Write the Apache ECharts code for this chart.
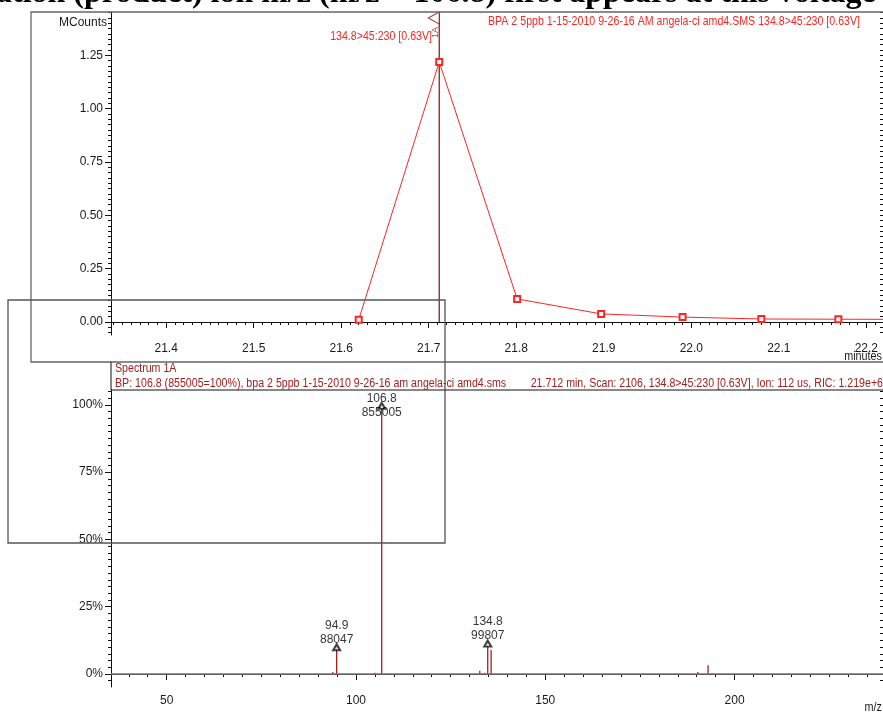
<!DOCTYPE html>
<html>
<head>
<meta charset="utf-8">
<script src="https://cdn.jsdelivr.net/npm/echarts@6/dist/echarts.min.js"></script>
<style>
  html, body { margin: 0; padding: 0; background: #fff; }
  #chart { width: 883px; height: 713px; }
</style>
</head>
<body>
<div id="chart"></div>
<script>
// ---- Chromatogram: 134.8>45:230 [0.63V] (MCounts vs minutes) ----
const rtMinutes = [21.620, 21.712, 21.801, 21.897, 21.990, 22.080, 22.168, 22.258];
const mCounts   = [0.010, 1.219, 0.108, 0.038, 0.023, 0.014, 0.013, 0.012];
const scanTime  = 21.712;
const rtTicks      = [21.4, 21.5, 21.6, 21.7, 21.8, 21.9, 22.0, 22.1, 22.2];
const mCountTicks  = [0.00, 0.25, 0.50, 0.75, 1.00, 1.25];

// ---- Spectrum 1A at 21.712 min (ion counts vs m/z) ----
const basePeakMz = 106.8;
const basePeak   = 855005;
const mzValues   = [53.0, 93.9, 94.9, 105.0, 106.8, 108.7, 132.7, 134.0, 134.8, 135.7, 190.3, 193.0, 194.0, 197.2];
const ionCounts  = [1500, 6000, 88047, 4000, 855005, 2500, 10500, 4000, 99807, 76000, 6000, 28000, 2500, 1500];
const labelledMz = [94.9, 106.8, 134.8];
const mzTicks    = [50, 100, 150, 200];
const pctTicks   = [0, 25, 50, 75, 100];

const rtRange  = [21.337, 22.219];
const mcRange  = [-0.061, 1.453];
const mzRange  = [35.3, 239.2];
const pctRange = [-4.83, 105.5];

const sans = "'Liberation Sans', Arial, sans-serif";
const DARK_RED = '#a3201f';
const RED = '#ff2424';
const SQUEEZE = 0.885;   // condensed header lettering

function steps(from, to, step) {
  const out = [];
  const n = Math.round((to - from) / step);
  for (let i = 0; i <= n; i++) out.push(+(from + i * step).toFixed(6));
  return out;
}
const rtMinor  = steps(21.34, 22.21, 0.01);
const mcMinor  = steps(-0.05, 1.45, 0.025);
const mzMinor  = steps(40, 235, 5);
const pctMinor = steps(-2.5, 105, 2.5).map(p => p / 100 * basePeak);
const pctMajor = pctTicks.map(p => p / 100 * basePeak);

const axisText = { color: '#1a1a1a', fontFamily: sans, fontSize: 12 };
const black = { color: '#111', width: 1 };

function majorAxis(extra) {
  return Object.assign({
    type: 'value', scale: true,
    axisLine: { show: true, lineStyle: black },
    splitLine: { show: false },
    axisPointer: { show: false }
  }, extra);
}
function minorAxis(extra, values, inside) {
  return Object.assign({
    type: 'value', scale: true,
    axisLine: { show: false },
    axisTick: { show: true, inside: !!inside, length: 3, customValues: values, lineStyle: black },
    axisLabel: { show: false },
    splitLine: { show: false }
  }, extra);
}

const chromData = rtMinutes.map((t, i) => [t, mCounts[i]]);
const specData  = mzValues.map((m, i) => [m, ionCounts[i]]);
const peakData  = labelledMz.map(m => {
  const c = ionCounts[mzValues.indexOf(m)];
  const item = { value: [m, c] };
  if (c === basePeak) item.label = { offset: [0, 21] };
  return item;
});

function header(x, y, text, fill, align, squeeze) {
  return {
    type: 'text', silent: true, z: 60, x: x, y: y,
    scaleX: squeeze || SQUEEZE, originX: 0, originY: 0,
    style: { text: text, fill: fill, font: '12px ' + sans, align: align || 'left', verticalAlign: 'middle' }
  };
}

const chart = echarts.init(document.getElementById('chart'), null, { renderer: 'canvas' });

chart.setOption({
  animation: false,
  backgroundColor: '#fff',
  grid: [
    { left: 111, top: 12, width: 772, height: 323, outerBoundsMode: 'none', containLabel: false },
    { left: 111, top: 390, width: 772, height: 297, outerBoundsMode: 'none', containLabel: false }
  ],
  xAxis: [
    majorAxis({
      gridIndex: 0, position: 'bottom', min: rtRange[0], max: rtRange[1],
      axisTick: { show: true, length: 6, customValues: rtTicks, lineStyle: black },
      axisLabel: Object.assign({ customValues: rtTicks, margin: 8, formatter: v => v.toFixed(1) }, axisText)
    }),
    minorAxis({ gridIndex: 0, position: 'bottom', min: rtRange[0], max: rtRange[1] }, rtMinor),
    majorAxis({
      gridIndex: 1, position: 'bottom', min: mzRange[0], max: mzRange[1],
      axisTick: { show: true, length: 6, customValues: mzTicks, lineStyle: black },
      axisLabel: Object.assign({ customValues: mzTicks, margin: 8, formatter: v => String(v) }, axisText)
    }),
    minorAxis({ gridIndex: 1, position: 'bottom', min: mzRange[0], max: mzRange[1] }, mzMinor)
  ],
  yAxis: [
    majorAxis({
      gridIndex: 0, position: 'left', min: mcRange[0], max: mcRange[1],
      axisTick: { show: true, length: 6, customValues: mCountTicks, lineStyle: black },
      axisLabel: Object.assign({ customValues: mCountTicks, margin: 8, formatter: v => v.toFixed(2) }, axisText),
      name: 'MCounts', nameLocation: 'end', nameGap: -11,
      nameTextStyle: Object.assign({ align: 'right', verticalAlign: 'middle', padding: [0, 4, 0, 0] }, axisText)
    }),
    minorAxis({ gridIndex: 0, position: 'left', min: mcRange[0], max: mcRange[1] }, mcMinor),
    minorAxis({ gridIndex: 0, position: 'right', min: mcRange[0], max: mcRange[1] }, mcMinor, true),
    majorAxis({
      gridIndex: 1, position: 'left',
      min: pctRange[0] / 100 * basePeak, max: pctRange[1] / 100 * basePeak,
      axisTick: { show: true, length: 6, customValues: pctMajor, lineStyle: black },
      axisLabel: Object.assign({ customValues: pctMajor, margin: 8,
        formatter: v => Math.round(v / basePeak * 100) + '%' }, axisText)
    }),
    minorAxis({ gridIndex: 1, position: 'left',
      min: pctRange[0] / 100 * basePeak, max: pctRange[1] / 100 * basePeak }, pctMinor),
    minorAxis({ gridIndex: 1, position: 'right',
      min: pctRange[0] / 100 * basePeak, max: pctRange[1] / 100 * basePeak }, pctMinor, true)
  ],
  series: [
    {
      name: '134.8>45:230 [0.63V]', type: 'line', xAxisIndex: 0, yAxisIndex: 0,
      data: chromData,
      lineStyle: { color: RED, width: 1 },
      itemStyle: { color: RED, borderColor: RED, borderWidth: 1 },
      symbol: 'emptyRect', symbolSize: 6, showAllSymbol: true, z: 5
    },
    {
      // scan position marker through the chromatogram
      type: 'line', xAxisIndex: 0, yAxisIndex: 0,
      data: [[scanTime, 0], [scanTime, mcRange[1]]],
      lineStyle: { color: '#8b0d0d', width: 1.2 }, symbol: 'none', z: 4
    },
    {
      type: 'scatter', xAxisIndex: 0, yAxisIndex: 0,
      data: [[scanTime, mcRange[1]]],
      symbol: 'path://M10,0 L0,6 L10,12 Z', symbolSize: [11, 12], symbolOffset: [-5.5, 6],
      itemStyle: { color: '#fff', borderColor: '#8b0d0d', borderWidth: 1 },
      label: { show: true, formatter: '1A', rotate: 90, fontSize: 9, color: '#8b0d0d',
        fontFamily: sans, position: [8, 21], align: 'center', verticalAlign: 'middle' },
      clip: false, z: 6
    },
    {
      name: 'Spectrum 1A', type: 'bar', xAxisIndex: 2, yAxisIndex: 3,
      data: specData, barWidth: 1.3,
      itemStyle: { color: DARK_RED },
      markLine: {
        silent: true, symbol: 'none', label: { show: false },
        lineStyle: { color: '#777', width: 1.5, type: 'solid' },
        data: [{ yAxis: 0 }]
      }
    },
    {
      type: 'scatter', xAxisIndex: 2, yAxisIndex: 3,
      data: peakData,
      symbol: 'emptyTriangle', symbolSize: [7, 6], symbolOffset: [0, 1],
      itemStyle: { color: '#111', borderColor: '#111', borderWidth: 1 },
      label: {
        show: true, position: 'top', distance: 3, offset: [0, 6], color: '#000', fontSize: 12,
        fontFamily: sans, lineHeight: 14,
        formatter: p => p.value[0].toFixed(1) + '\n' + p.value[1]
      },
      clip: false, z: 6
    }
  ],
  graphic: [
    {
      type: 'text', left: -4, top: -22, silent: true, z: 100,
      style: {
        text: 'ation (product) ion m/z (m/z = 106.8) first appears at this voltage',
        font: "bold 32px 'Liberation Serif', 'Times New Roman', serif", fill: '#000'
      }
    },
    {
      type: 'rect', silent: true, z: 50,
      shape: { x: 31, y: 12, width: 870, height: 350 },
      style: { fill: 'none', stroke: '#666', lineWidth: 1.3 }
    },
    {
      type: 'rect', silent: true, z: 50,
      shape: { x: 8, y: 300, width: 437, height: 243 },
      style: { fill: 'none', stroke: '#555', lineWidth: 1.3 }
    },
    {
      type: 'line', silent: true, z: 50,
      shape: { x1: 111, y1: 390, x2: 883, y2: 390 },
      style: { stroke: '#111', lineWidth: 1 }
    },
    {
      type: 'line', silent: true, z: 50,
      shape: { x1: 111, y1: 362, x2: 111, y2: 390 },
      style: { stroke: '#111', lineWidth: 1 }
    },
    header(882, 357, 'minutes', '#1a1a1a', 'right', 0.9),
    header(882, 708, 'm/z', '#1a1a1a', 'right', 0.9),
    header(432, 37, '134.8>45:230 [0.63V]', RED, 'right'),
    header(860, 22, 'BPA 2 5ppb 1-15-2010 9-26-16 AM angela-ci amd4.SMS 134.8>45:230 [0.63V]', RED, 'right'),
    header(115, 369, 'Spectrum 1A', DARK_RED),
    header(115, 384, 'BP: ' + basePeakMz + ' (' + basePeak + '=100%), bpa 2 5ppb 1-15-2010 9-26-16 am angela-ci amd4.sms', DARK_RED),
    header(883, 384, scanTime + ' min, Scan: 2106, 134.8>45:230 [0.63V], Ion: 112 us, RIC: 1.219e+6', DARK_RED, 'right')
  ]
});
</script>
</body>
</html>
